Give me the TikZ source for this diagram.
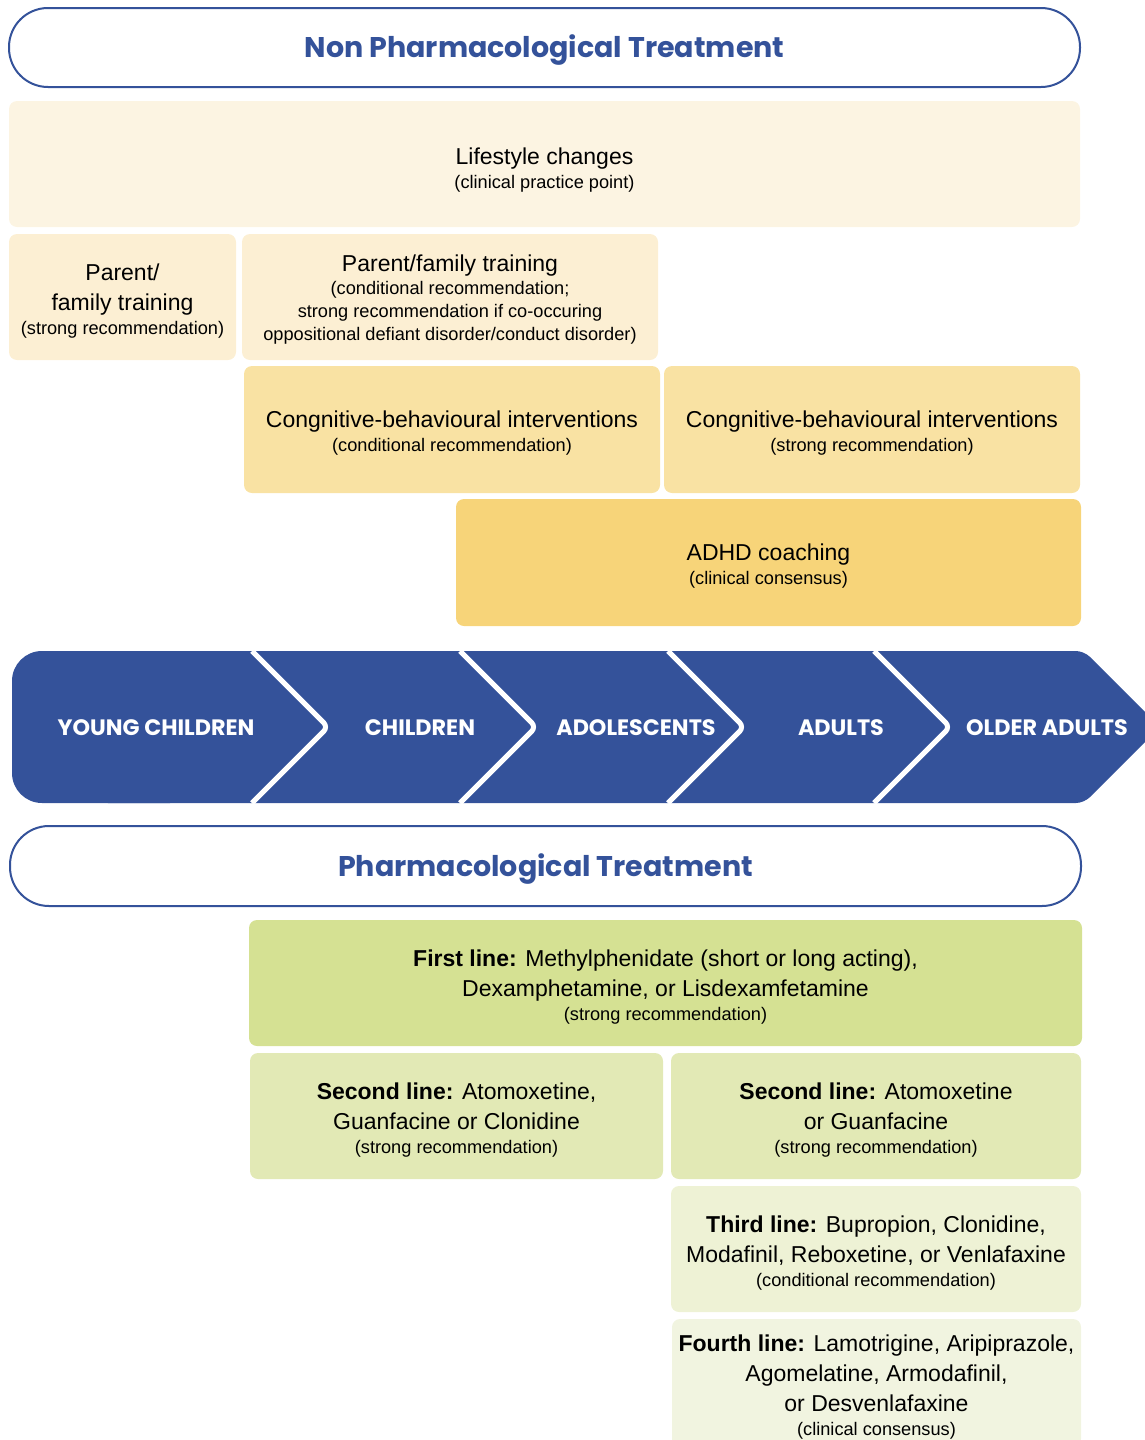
\documentclass[tikz,border=0pt]{standalone}
\usepackage{fontspec}
\setmainfont{Liberation Sans}
\newfontfamily\popfont{Poppins}
\definecolor{bandblue}{RGB}{52,82,154}
\definecolor{clife}{RGB}{252,244,226}
\definecolor{cpf}{RGB}{252,239,211}
\definecolor{ccbt}{RGB}{249,226,163}
\definecolor{ccoach}{RGB}{247,212,121}
\definecolor{cfirst}{RGB}{213,225,147}
\definecolor{csecond}{RGB}{226,233,181}
\definecolor{cthird}{RGB}{238,242,213}
\definecolor{cfourth}{RGB}{241,244,224}
\newcommand\subl[1]{{\fontsize{18.2}{24}\selectfont #1}}
\newcommand\tstrut{\rule{0pt}{24pt}}
\tikzset{
  hdr/.style={draw=bandblue, line width=2pt, fill=white, rounded corners=39pt, inner sep=0pt,
    text=bandblue, font=\popfont\bfseries\fontsize{28.5}{32}\selectfont},
  tbox/.style={rounded corners=8pt, inner sep=0pt, align=center,
    font=\fontsize{23}{30}\selectfont},
  agelbl/.style={text=white, font=\popfont\bfseries\fontsize{22.3}{26}\selectfont, inner sep=0pt},
  sep/.style={draw=white, line width=5pt, rounded corners=6pt}
}
\begin{document}
\begin{tikzpicture}[x=1pt,y=-1pt]
\useasboundingbox (0,0) rectangle (1145,1440);

\node[hdr, minimum width=1071pt, minimum height=79pt] (hdra) at (544.5,47.5) {\rule{0pt}{28pt}Non Pharmacological Treatment};

\node[tbox, fill=clife, minimum width=1071pt, minimum height=126pt] (life) at (544.5,164)
  {\rule{0pt}{28pt}Lifestyle changes\\[-6pt]\subl{(clinical practice point)}};
\node[tbox, fill=cpf, minimum width=227pt, minimum height=126pt] (pfa) at (122.5,297)
  {\tstrut Parent/\\family training\\[-6pt]\subl{(strong recommendation)}};
\node[tbox, fill=cpf, minimum width=416pt, minimum height=126pt] (pfb) at (450,297)
  {\rule{0pt}{22pt}Parent/family training\\[-7pt]\subl{(conditional recommendation;}\\[-7pt]\subl{strong recommendation if co-occuring}\\[-7pt]\subl{oppositional defiant disorder/conduct disorder)}};
\node[tbox, fill=ccbt, minimum width=416pt, minimum height=127pt] (cbta) at (452,429.5)
  {\tstrut Congnitive-behavioural interventions\\[-6pt]\subl{(conditional recommendation)}};
\node[tbox, fill=ccbt, minimum width=416pt, minimum height=127pt] (cbtb) at (872,429.5)
  {\tstrut Congnitive-behavioural interventions\\[-6pt]\subl{(strong recommendation)}};
\node[tbox, fill=ccoach, minimum width=625pt, minimum height=127pt] (coach) at (768.5,562.5)
  {\tstrut ADHD coaching\\[-6pt]\subl{(clinical consensus)}};

% age band
\fill[bandblue, rounded corners=30pt] (12,651) rectangle (200,803);
\fill[bandblue, rounded corners=8pt] (100,651) -- (1084,651) -- (1160,727) -- (1084,803) -- (100,803) -- cycle;
\draw[sep] (252,651) -- (328,727) -- (252,803);
\draw[sep] (460,651) -- (536,727) -- (460,803);
\draw[sep] (668,651) -- (744,727) -- (668,803);
\draw[sep] (874,651) -- (950,727) -- (874,803);
\node[agelbl] (ya) at (156,728) {YOUNG CHILDREN};
\node[agelbl] (ch) at (420,728) {CHILDREN};
\node[agelbl] (ad) at (636,728) {ADOLESCENTS};
\node[agelbl] (au) at (841,728) {ADULTS};
\node[agelbl] (oa) at (1047,728) {OLDER ADULTS};

\node[hdr, minimum width=1071pt, minimum height=80pt] (hdrb) at (545.5,866) {\rule{0pt}{28pt}Pharmacological Treatment};

\node[tbox, fill=cfirst, minimum width=833pt, minimum height=126pt] (first) at (665.5,983)
  {\tstrut\textbf{First line:} Methylphenidate (short or long acting),\\Dexamphetamine, or Lisdexamfetamine\\[-6pt]\subl{(strong recommendation)}};
\node[tbox, fill=csecond, minimum width=413pt, minimum height=126pt] (seca) at (456.5,1116)
  {\tstrut\textbf{Second line:} Atomoxetine,\\Guanfacine or Clonidine\\[-6pt]\subl{(strong recommendation)}};
\node[tbox, fill=csecond, minimum width=410pt, minimum height=126pt] (secb) at (876,1116)
  {\tstrut\textbf{Second line:} Atomoxetine\\or Guanfacine\\[-6pt]\subl{(strong recommendation)}};
\node[tbox, fill=cthird, minimum width=410pt, minimum height=126pt] (third) at (876,1249)
  {\tstrut\textbf{Third line:} Bupropion, Clonidine,\\Modafinil, Reboxetine, or Venlafaxine\\[-6pt]\subl{(conditional recommendation)}};
\node[tbox, fill=cfourth, minimum width=409pt, minimum height=128pt] (fourth) at (876.5,1383)
  {\tstrut\textbf{Fourth line:} Lamotrigine, Aripiprazole,\\Agomelatine, Armodafinil,\\or Desvenlafaxine\\[-6pt]\subl{(clinical consensus)}};
\end{tikzpicture}
\end{document}
